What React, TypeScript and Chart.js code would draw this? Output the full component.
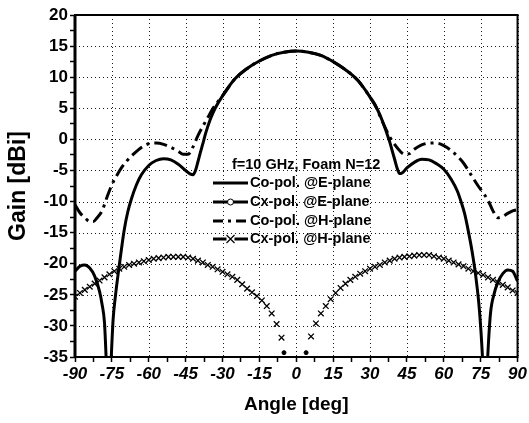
import { useEffect, useRef } from 'react';
import { Chart, registerables } from 'chart.js';

Chart.register(...registerables);

// ---- data ----
const coEAngles = [-90, -88, -86, -84, -82, -80, -79, -78, -77.3, -76.3, -75.3, -74.5, -73.5, -72.5, -71.5, -70, -68.5, -67, -65, -63, -60, -57, -54, -51, -48, -45, -43, -42, -41, -40, -39, -38, -37, -35, -33, -30, -25, -20, -15, -10, -5, 0, 5, 10, 15, 20, 25, 30, 33, 35, 37, 38, 39, 40, 41, 42, 43, 45, 48, 51, 54, 57, 60, 63, 65.5, 67, 68.5, 70, 71.5, 73, 74.5, 75.8, 76.8, 77.8, 79, 80.5, 82, 84, 86, 88, 90];
const coEGain = [-21.2, -20.4, -20.2, -20.7, -22.0, -24.5, -26.5, -29.5, -35.5, -45, -35.5, -29, -25, -21.8, -18.8, -14.6, -11.6, -9.5, -7.3, -5.7, -4.2, -3.4, -3.1, -3.3, -4.0, -5.0, -5.6, -5.7, -5.0, -3.6, -2.1, -0.7, 0.8, 3.2, 5.0, 7.0, 9.7, 11.4, 12.6, 13.5, 14.0, 14.2, 14.0, 13.5, 12.5, 11.2, 9.5, 6.8, 4.8, 3.0, 0.8, -0.4, -1.8, -3.2, -4.6, -5.5, -5.4, -4.6, -3.7, -3.2, -3.3, -3.9, -4.8, -6.4, -8.3, -10, -12, -14.8, -18, -22, -27.5, -35.5, -45, -35.5, -28, -24.8, -23, -21.6, -21.0, -21.2, -22.8];

const cxEAngles = [-5, 4];
const cxEGain = [-34.3, -34.3];

const coHAngles = [-90, -88, -86, -84, -82.5, -81, -79, -77, -75, -73, -71, -69, -66, -63, -60, -57, -54, -51, -48, -46, -44, -42, -40, -38, -36, -34, -32, -30, -25, -20, -15, -10, -5, 0, 5, 10, 15, 20, 25, 30, 32, 34, 36, 38, 40, 42, 44, 46, 48, 51, 54, 57, 60, 63, 66, 68, 70, 72, 74, 76, 78, 80, 82, 84, 86, 88, 90];
const coHGain = [-10.5, -11.8, -12.6, -13.2, -13.2, -12.6, -11.5, -9.3, -7.3, -5.8, -4.5, -3.5, -2.3, -1.3, -0.7, -0.6, -0.8, -1.3, -1.9, -2.4, -2.4, -1.2, 0.6, 2.1, 3.5, 4.9, 6.0, 7.0, 9.7, 11.4, 12.6, 13.5, 14.0, 14.2, 14.0, 13.5, 12.5, 11.2, 9.5, 6.8, 5.6, 3.8, 2.0, 0.4, -0.8, -1.8, -2.4, -2.3, -1.6, -0.9, -0.6, -0.6, -1.0, -1.8, -2.9, -3.8, -5.0, -6.3, -7.5, -8.6, -9.8, -11.5, -12.6, -12.4, -11.9, -11.5, -11.3];

const cxHAngles = [-90, -88, -86, -84, -82, -80, -78, -76, -74, -72, -70, -68, -66, -64, -62, -60, -58, -56, -54, -52, -50, -48, -46, -44, -42, -40, -38, -36, -34, -32, -30, -28, -26, -24, -22, -20, -18, -16, -14, -12, -10, -8, -6, -4, -2, 0, 2, 4, 6, 8, 10, 12, 14, 16, 18, 20, 22, 24, 26, 28, 30, 32, 34, 36, 38, 40, 42, 44, 46, 48, 50, 52, 54, 56, 58, 60, 62, 64, 66, 68, 70, 72, 74, 76, 78, 80, 82, 84, 86, 88, 90];
const cxHGain: (number | null)[] = [-25.3, -24.7, -24.2, -23.7, -23.2, -22.7, -22.2, -21.7, -21.2, -20.8, -20.5, -20.2, -20.0, -19.8, -19.6, -19.4, -19.2, -19.1, -19.0, -18.9, -18.9, -18.9, -18.9, -19.0, -19.2, -19.5, -19.8, -20.2, -20.5, -20.9, -21.3, -21.7, -22.1, -22.6, -23.3, -24.0, -24.6, -25.2, -25.9, -26.8, -28.0, -29.7, -31.9, null, null, null, null, null, -31.7, -29.6, -28.0, -26.8, -25.7, -24.7, -23.9, -23.2, -22.6, -22.1, -21.6, -21.2, -20.8, -20.5, -20.2, -19.8, -19.5, -19.2, -19.0, -18.9, -18.8, -18.7, -18.6, -18.6, -18.6, -18.8, -19.0, -19.2, -19.5, -19.8, -20.1, -20.4, -20.8, -21.2, -21.5, -21.8, -22.2, -22.6, -23.0, -23.4, -23.8, -24.3, -24.7];

// ---- axes / labels ----
const xTickValues = [-90, -75, -60, -45, -30, -15, 0, 15, 30, 45, 60, 75, 90];
const yTickValues = [-35, -30, -25, -20, -15, -10, -5, 0, 5, 10, 15, 20];
const seriesLabels = ['Co-pol. @E-plane', 'Cx-pol. @E-plane', 'Co-pol. @H-plane', 'Cx-pol. @H-plane'];
const legendTitle = 'f=10 GHz, Foam N=12';
const xTitle = 'Angle [deg]';
const yTitle = 'Gain [dBi]';

const FONT = '"Liberation Sans", Arial, sans-serif';
const DASHDOT = [13, 5, 3, 5];

const toPts = (xs: number[], ys: (number | null)[]) => xs.map((x, i) => ({ x, y: ys[i] }));

const gridPlugin = {
  id: 'dotGrid',
  beforeDatasetsDraw(chart: any) {
    const { ctx, chartArea: a, scales } = chart;
    ctx.save();
    ctx.strokeStyle = '#1a1a1a';
    ctx.lineWidth = 1;
    ctx.setLineDash([1, 3]);
    ctx.beginPath();
    xTickValues.forEach((v) => {
      const px = Math.round(scales.x.getPixelForValue(v)) + 0.5;
      ctx.moveTo(px, a.top);
      ctx.lineTo(px, a.bottom);
    });
    yTickValues.forEach((v) => {
      const py = Math.round(scales.y.getPixelForValue(v)) + 0.5;
      ctx.moveTo(a.left, py);
      ctx.lineTo(a.right, py);
    });
    ctx.stroke();
    ctx.restore();
  },
};

const framePlugin = {
  id: 'frame',
  afterDraw(chart: any) {
    const { ctx, chartArea: a } = chart;
    ctx.save();
    ctx.strokeStyle = '#000';
    ctx.lineWidth = 2;
    ctx.strokeRect(a.left, a.top, a.right - a.left, a.bottom - a.top);
    ctx.lineWidth = 3;
    ctx.beginPath();
    ctx.moveTo(a.left, a.top);
    ctx.lineTo(a.left, a.bottom);
    ctx.stroke();
    ctx.restore();
  },
};

const legendPlugin = {
  id: 'inlineLegend',
  afterDatasetsDraw(chart: any) {
    const { ctx, chartArea: a } = chart;
    const x0 = a.left + 138;
    const y0 = a.top + 150;
    const lx1 = x0, lx2 = x0 + 35, tx = x0 + 37;
    ctx.save();
    ctx.fillStyle = '#000';
    ctx.strokeStyle = '#000';
    ctx.font = `bold 14.5px ${FONT}`;
    ctx.textBaseline = 'middle';
    ctx.fillText(legendTitle, x0 + 19, y0);
    const rows = [y0 + 18, y0 + 37, y0 + 56, y0 + 74];
    rows.forEach((y, i) => {
      ctx.lineWidth = 3;
      ctx.setLineDash(i === 2 ? [10, 5, 3, 5] : []);
      ctx.beginPath();
      ctx.moveTo(lx1, y);
      ctx.lineTo(lx2, y);
      ctx.stroke();
      ctx.setLineDash([]);
      const cx = (lx1 + lx2) / 2;
      if (i === 1) {
        ctx.fillStyle = '#fff';
        ctx.beginPath();
        ctx.arc(cx, y, 3, 0, Math.PI * 2);
        ctx.fill();
        ctx.lineWidth = 1;
        ctx.stroke();
        ctx.fillStyle = '#000';
      }
      if (i === 3) {
        ctx.fillStyle = '#fff';
        ctx.fillRect(cx - 4, y - 2, 8, 4);
        ctx.fillStyle = '#000';
        ctx.lineWidth = 1.2;
        ctx.beginPath();
        ctx.moveTo(cx - 4, y - 4);
        ctx.lineTo(cx + 4, y + 4);
        ctx.moveTo(cx + 4, y - 4);
        ctx.lineTo(cx - 4, y + 4);
        ctx.stroke();
      }
      ctx.fillText(seriesLabels[i], tx, y);
    });
    ctx.restore();
  },
};

export default function App() {
  const ref = useRef<HTMLCanvasElement | null>(null);
  useEffect(() => {
    if (!ref.current) return;
    const chart = new Chart(ref.current, {
      type: 'scatter',
      data: {
        datasets: [
          {
            label: seriesLabels[0],
            data: toPts(coEAngles, coEGain),
            showLine: true,
            borderColor: '#000',
            borderWidth: 3,
            pointRadius: 0,
            cubicInterpolationMode: 'monotone',
          },
          {
            label: seriesLabels[1],
            data: toPts(cxEAngles, cxEGain),
            showLine: false,
            pointStyle: 'circle',
            pointRadius: 2,
            backgroundColor: '#000',
            borderColor: '#000',
          },
          {
            label: seriesLabels[2],
            data: toPts(coHAngles, coHGain),
            showLine: true,
            borderColor: '#000',
            borderWidth: 3,
            borderDash: DASHDOT,
            pointRadius: 0,
            cubicInterpolationMode: 'monotone',
          },
          {
            label: seriesLabels[3],
            data: toPts(cxHAngles, cxHGain),
            showLine: false,
            pointStyle: 'crossRot',
            pointRadius: 4,
            borderWidth: 1.3,
            borderColor: '#000',
          },
        ] as any,
      },
      options: {
        animation: false,
        responsive: false,
        layout: { padding: { top: 15, right: 10, left: 0, bottom: 0 } },
        plugins: { legend: { display: false }, tooltip: { enabled: false } },
        scales: {
          x: {
            type: 'linear',
            min: -90,
            max: 90,
            afterFit: (s: any) => { s.height = 66; },
            afterBuildTicks: (s: any) => {
              const t: any[] = [];
              for (let i = 0; i < xTickValues.length; i++) {
                t.push({ value: xTickValues[i] });
                if (i < xTickValues.length - 1) t.push({ value: (xTickValues[i] + xTickValues[i + 1]) / 2 });
              }
              s.ticks = t;
            },
            ticks: {
              autoSkip: false,
              maxRotation: 0,
              padding: 2,
              color: '#000',
              font: { family: FONT, size: 17, weight: 'bold', style: 'italic' },
              callback: (v: any) => (xTickValues.includes(Number(v)) ? String(v) : ''),
            },
            grid: {
              drawOnChartArea: false,
              color: '#000',
              tickColor: '#000',
              tickLength: 5,
              tickWidth: 1.5,
            },
            border: { display: false },
            title: {
              display: true,
              text: xTitle,
              color: '#000',
              font: { family: FONT, size: 19, weight: 'bold' },
              padding: { top: 0, bottom: 7 },
            },
          },
          y: {
            type: 'linear',
            min: -35,
            max: 20,
            afterFit: (s: any) => { s.width = 75; },
            afterBuildTicks: (s: any) => {
              const t: any[] = [];
              for (let i = 0; i < yTickValues.length; i++) {
                t.push({ value: yTickValues[i] });
                if (i < yTickValues.length - 1) t.push({ value: (yTickValues[i] + yTickValues[i + 1]) / 2 });
              }
              s.ticks = t;
            },
            ticks: {
              autoSkip: false,
              padding: 2,
              color: '#000',
              font: { family: FONT, size: 17, weight: 'bold' },
              callback: (v: any) => (yTickValues.includes(Number(v)) ? String(v) : ''),
            },
            grid: {
              drawOnChartArea: false,
              color: '#000',
              tickColor: '#000',
              tickLength: 5,
              tickWidth: 1.5,
            },
            border: { display: false },
            title: {
              display: true,
              text: yTitle,
              color: '#000',
              font: { family: FONT, size: 23, weight: 'bold' },
              padding: { top: 5, bottom: 0 },
            },
          },
        },
      } as any,
      plugins: [gridPlugin, framePlugin, legendPlugin],
    });
    return () => chart.destroy();
  }, []);
  return (
    <div style={{ position: 'fixed', left: 0, top: 0, width: 529, height: 423, background: '#fff' }}>
      <canvas ref={ref} width={529} height={423} />
    </div>
  );
}
